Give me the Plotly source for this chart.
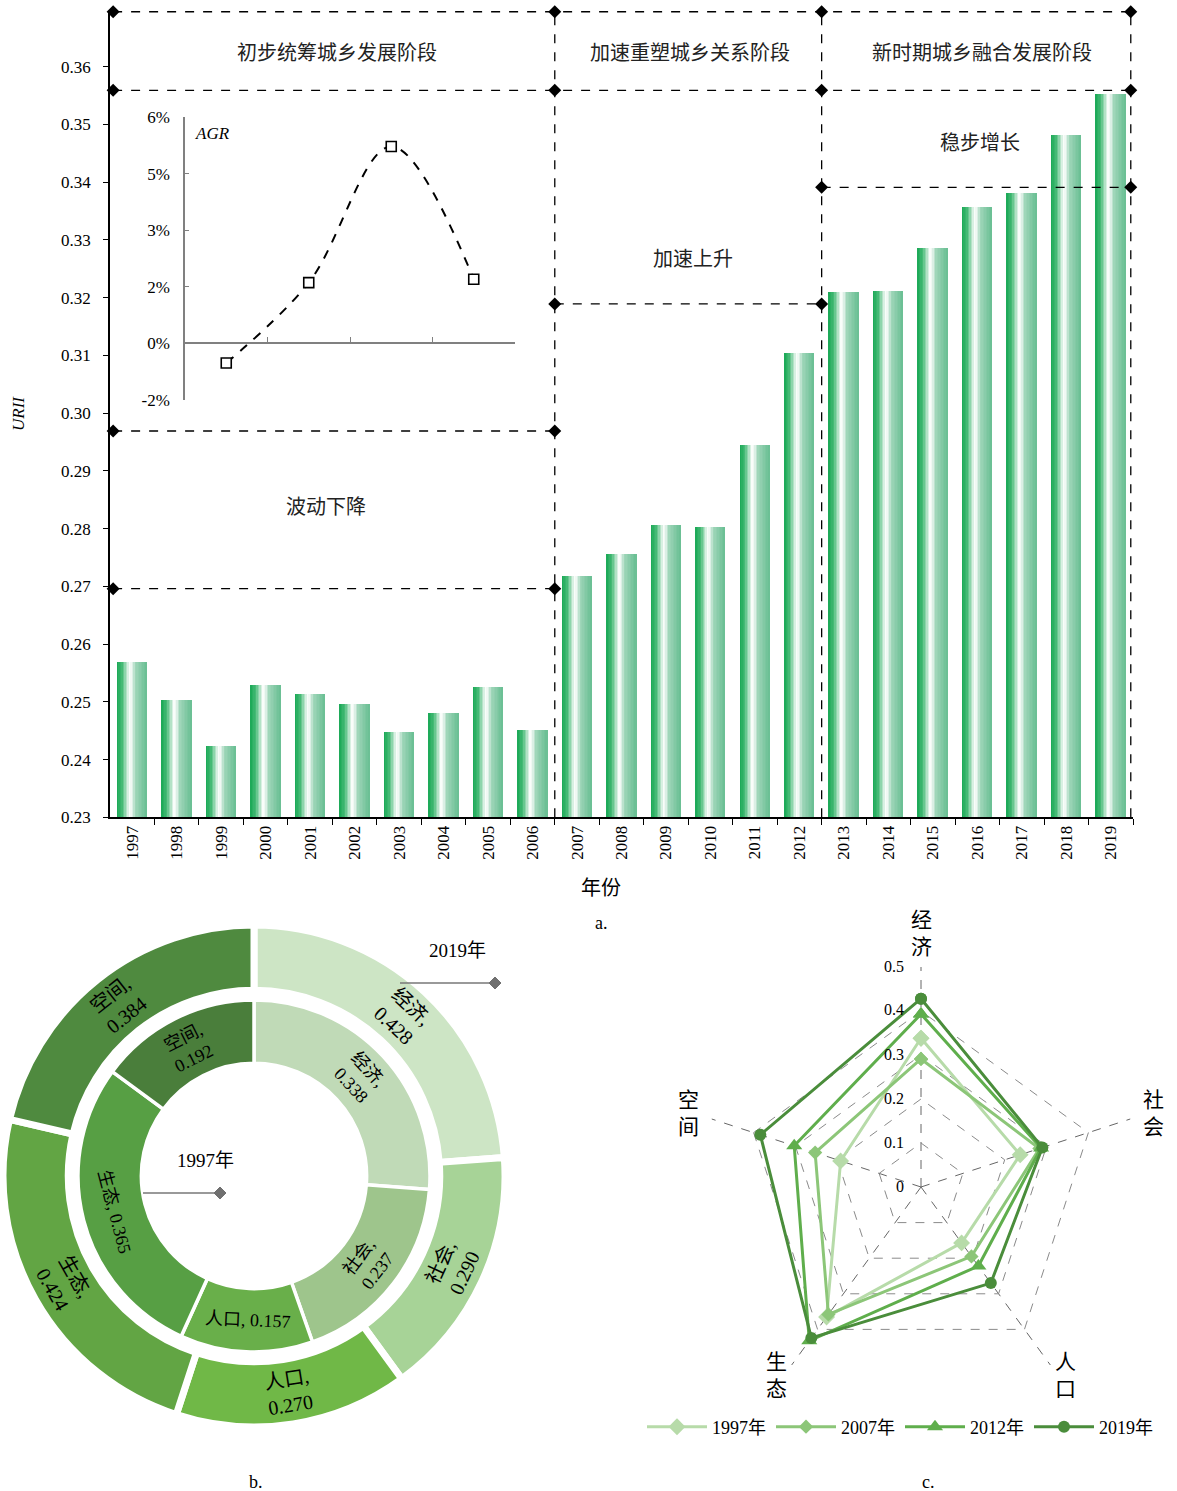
import math
import plotly.graph_objects as go

W, H = 1177, 1491

# ---------------- data ----------------
years = [str(y) for y in range(1997, 2020)]
urii = [0.2570, 0.2503, 0.2425, 0.2530, 0.2514, 0.2497, 0.2448, 0.2481, 0.2527, 0.2452,
        0.2719, 0.2756, 0.2807, 0.2804, 0.2946, 0.3104,
        0.3211, 0.3212, 0.3287, 0.3357, 0.3382, 0.3483, 0.3553]

stage_names = ["初步统筹城乡发展阶段", "加速重塑城乡关系阶段", "新时期城乡融合发展阶段"]
trend_names = ["波动下降", "加速上升", "稳步增长"]

agr_points = ["p1", "p2", "p3", "p4"]
agr_values = [-0.52, 1.61, 5.22, 1.70]          # percent
agr_tickvals = [-1.5, 0, 1.5, 3, 4.5, 6]
agr_ticktext = ["-2%", "0%", "2%", "3%", "5%", "6%"]

dims = ["经济", "社会", "人口", "生态", "空间"]
v1997 = [0.338, 0.237, 0.157, 0.365, 0.192]
v2007 = [0.291, 0.283, 0.195, 0.358, 0.253]
v2012 = [0.393, 0.287, 0.222, 0.432, 0.303]
v2019 = [0.428, 0.290, 0.270, 0.424, 0.384]
radar_series = ["1997年", "2007年", "2012年", "2019年"]
radar_ticks = [0, 0.1, 0.2, 0.3, 0.4, 0.5]

SERIF = "'Liberation Serif', 'Noto Sans CJK SC', serif"
CJK = "'Noto Sans CJK SC', 'Liberation Serif', sans-serif"


def P(x, y):
    return x / W, 1 - y / H


fig = go.Figure()


def note(text, x, y, size, family=SERIF, angle=0, xanchor="center", yanchor="middle", **kw):
    px_, py_ = P(x, y)
    fig.add_annotation(x=px_, y=py_, xref="paper", yref="paper", text=text, showarrow=False,
                       textangle=angle, xanchor=xanchor, yanchor=yanchor,
                       font=dict(family=family, size=size, color="black"), **kw)


# ---------------- (a) bar chart with gradient stripes ----------------
xs = list(range(len(years)))
stops = [(0.0, (24, 168, 84)), (0.18, (70, 186, 118)), (0.42, (250, 253, 251)),
         (0.5, (235, 246, 240)), (0.62, (160, 214, 186)), (1.0, (104, 190, 146))]


def grad(t):
    for (t0, c0), (t1, c1) in zip(stops[:-1], stops[1:]):
        if t0 <= t <= t1:
            f = (t - t0) / (t1 - t0)
            return "rgb(%d,%d,%d)" % tuple(round(a + (b - a) * f) for a, b in zip(c0, c1))
    return "rgb(%d,%d,%d)" % stops[-1][1]


BW = 0.67
N = 20
sw = BW / N
for i in range(N):
    fig.add_trace(go.Bar(
        x=xs, y=[v - 0.23 for v in urii], base=0.23,
        width=sw * 1.08, offset=-BW / 2 + i * sw,
        marker=dict(color=grad((i + 0.5) / N), line=dict(width=0)),
        showlegend=False, hoverinfo="skip", xaxis="x", yaxis="y"))

# stage frame lines
top_y, sec_y = 0.3695, 0.3559
xl, xm1, xm2, xr = -0.43, 9.5, 15.5, 22.45
hlines = [
    ([xl, xm1, xm2, xr], top_y),
    ([xl, xm1, xm2, xr], sec_y),
    ([xm2, xr], 0.3391),
    ([xm1, xm2], 0.3189),
    ([xl, xm1], 0.2969),
    ([xl, xm1], 0.2696),
]
for xv in [xm1, xm2, xr]:
    fig.add_trace(go.Scatter(x=[xv, xv], y=[0.23, top_y], mode="lines", cliponaxis=False,
                             line=dict(color="black", width=1.3, dash="dash"),
                             showlegend=False, hoverinfo="skip", xaxis="x", yaxis="y"))
for xv, yv in hlines:
    fig.add_trace(go.Scatter(x=xv, y=[yv] * len(xv), mode="lines+markers", cliponaxis=False,
                             line=dict(color="black", width=1.3, dash="dash"),
                             marker=dict(symbol="diamond", size=10, color="black"),
                             showlegend=False, hoverinfo="skip", xaxis="x", yaxis="y"))

for name, xv in zip(stage_names, [4.6, 12.55, 19.1]):
    fig.add_annotation(x=xv, y=(top_y + sec_y) / 2, xref="x", yref="y", text=name,
                       showarrow=False, font=dict(family=CJK, size=20, color="#222"))
for name, xv, yv in zip(trend_names, [4.35, 12.6, 19.05], [0.2840, 0.3269, 0.3471]):
    fig.add_annotation(x=xv, y=yv, xref="x", yref="y", text=name,
                       showarrow=False, font=dict(family=CJK, size=20, color="#222"))

# inset AGR line
fig.add_trace(go.Scatter(x=list(range(len(agr_points))), y=agr_values, mode="lines+markers",
                         line=dict(color="black", width=2, dash="dash", shape="spline", smoothing=1.0),
                         marker=dict(symbol="square", size=10, color="white",
                                     line=dict(width=1.6, color="black")),
                         showlegend=False, hoverinfo="skip", xaxis="x2", yaxis="y2"))

main_dom_x = [P(110, 0)[0], P(1133, 0)[0]]
main_dom_y = [P(0, 817.3)[1], P(0, 10.6)[1]]
ins_dom_x = [P(185, 0)[0], P(515, 0)[0]]
ins_dom_y = [P(0, 400)[1], P(0, 117)[1]]
ins_zero = ins_dom_y[0] + (0 - (-1.5)) / 7.5 * (ins_dom_y[1] - ins_dom_y[0])

fig.update_layout(
    xaxis=dict(domain=main_dom_x, anchor="y", range=[-0.5, 22.5], tickmode="array",
               tickvals=xs, ticktext=years, ticks="", tickangle=-90, automargin=False,
               tickfont=dict(family=SERIF, size=17, color="black"),
               showline=True, linecolor="black", linewidth=1.5, showgrid=False, zeroline=False,
               minor=dict(tickvals=[x + 0.5 for x in xs], ticks="outside", ticklen=6,
                          tickcolor="black", tickwidth=1.3, showgrid=False)),
    yaxis=dict(domain=main_dom_y, anchor="x", range=[0.23, 0.3697], dtick=0.01, tick0=0.23,
               tickformat=".2f", ticks="outside", ticklen=5, tickcolor="black", automargin=False,
               ticklabelstandoff=9,
               tickfont=dict(family=SERIF, size=17, color="black"),
               showline=True, linecolor="black", linewidth=1.5, showgrid=False, zeroline=False),
    xaxis2=dict(domain=ins_dom_x, anchor="free", position=ins_zero, range=[-0.5, 3.5],
                tickmode="array", tickvals=[0.5, 1.5, 2.5, 3.5], ticks="inside", ticklen=6,
                tickcolor="#808080", showticklabels=False, showline=True, linecolor="#808080",
                linewidth=1.5, showgrid=False, zeroline=False, automargin=False),
    yaxis2=dict(domain=ins_dom_y, anchor="x2", range=[-1.5, 6], tickmode="array",
                tickvals=agr_tickvals, ticktext=agr_ticktext, ticks="inside", ticklen=4,
                tickcolor="#808080", showline=True, linecolor="#808080", linewidth=1.5,
                showgrid=False, zeroline=False, automargin=False, ticklabelstandoff=10,
                tickfont=dict(family=SERIF, size=17, color="black")),
)
fig.add_annotation(x=0.025, y=0.943, xref="x2 domain", yref="y2 domain", text="<i>AGR</i>",
                   xanchor="left", yanchor="middle", showarrow=False,
                   font=dict(family=SERIF, size=17, color="black"))

note("<i>URII</i>", 18, 414, 17, angle=-90)
note("年份", 601, 886, 20, family=CJK)

# ---------------- (b) donut ----------------
outer_colors = ["#cde5c5", "#a7d397", "#70b847", "#62a544", "#4f8a3f"]
inner_colors = ["#c0dab7", "#9ec58c", "#69af4a", "#579f44", "#4a7e3b"]
outer_sep = [",<br>", ",<br>", ",<br>", ",<br>", ",<br>"]
inner_sep = [",<br>", ",<br>", ", ", ", ", ",<br>"]

cx, cy, R, r_in = 254, 1176, 251, 176
hole_o, hole_i = 0.74, 0.64
fig.add_trace(go.Pie(
    labels=dims, values=v2019, sort=False, direction="clockwise", rotation=0, hole=hole_o,
    textinfo="none",
    marker=dict(colors=outer_colors, line=dict(color="white", width=7)),
    domain=dict(x=[P(cx - R, 0)[0], P(cx + R, 0)[0]], y=[P(0, cy + R)[1], P(0, cy - R)[1]]),
    showlegend=False, hoverinfo="skip"))
fig.add_trace(go.Pie(
    labels=dims, values=v1997, sort=False, direction="clockwise", rotation=0, hole=hole_i,
    textinfo="none",
    marker=dict(colors=inner_colors, line=dict(color="white", width=3.5)),
    domain=dict(x=[P(cx - r_in, 0)[0], P(cx + r_in, 0)[0]], y=[P(0, cy + r_in)[1], P(0, cy - r_in)[1]]),
    showlegend=False, hoverinfo="skip"))


def ring_labels(vals, seps, r_mid, size):
    tot = sum(vals)
    acc = 0
    for d, s, v in zip(dims, seps, vals):
        mid = (acc + v / 2) / tot * 360
        acc += v
        rad = math.radians(mid)
        x = cx + r_mid * math.sin(rad)
        y = cy - r_mid * math.cos(rad)
        ang = mid if (mid < 90 or mid > 270) else mid - 180
        if ang > 180:
            ang -= 360
        note(f"{d}{s}{v:.3f}", x, y, size, angle=ang)


ring_labels(v2019, outer_sep, (R + R * hole_o) / 2, 20)
ring_labels(v1997, inner_sep, (r_in + r_in * hole_i) / 2, 18)


def leader(x0, x1, y, label, lx, ly):
    a, b = P(x0, y)
    c, _ = P(x1, y)
    fig.add_shape(type="line", xref="paper", yref="paper", x0=a, y0=b, x1=c, y1=b,
                  line=dict(color="#777", width=1.5))
    d = 6
    pts = [P(x1 - d, y), P(x1, y - d), P(x1 + d, y), P(x1, y + d)]
    path = "M " + " L ".join(f"{p[0]},{p[1]}" for p in pts) + " Z"
    fig.add_shape(type="path", xref="paper", yref="paper", path=path,
                  fillcolor="#707070", line=dict(color="#707070", width=1))
    note(label, lx, ly, 19)


leader(400, 495, 983, "2019年", 457, 950)
leader(143, 220, 1193, "1997年", 205, 1160)

# ---------------- (c) radar ----------------
radar_vals = [v1997, v2007, v2012, v2019]
radar_colors = ["#b7dba9", "#8cc678", "#5fae4c", "#4a8d3b"]
radar_symbols = ["diamond", "diamond", "triangle-up", "circle"]
radar_sizes = [13, 11, 14, 12]
for name, vals, col, sym, sz in zip(radar_series, radar_vals, radar_colors, radar_symbols, radar_sizes):
    fig.add_trace(go.Scatterpolar(
        r=vals + vals[:1], theta=dims + dims[:1], name=name,
        mode="lines+markers", line=dict(color=col, width=3),
        marker=dict(symbol=sym, size=sz, color=col), subplot="polar", hoverinfo="skip"))

rcx, rcy, rR = 921, 1187, 220
fig.update_layout(
    polar=dict(
        domain=dict(x=[P(rcx - rR, 0)[0], P(rcx + rR, 0)[0]], y=[P(0, rcy + rR)[1], P(0, rcy - rR)[1]]),
        gridshape="linear", bgcolor="rgba(0,0,0,0)",
        radialaxis=dict(range=[0, 0.5], tickvals=radar_ticks, angle=90,
                        showline=False, ticks="", showticklabels=False,
                        gridcolor="#8a8a8a", griddash="dash", gridwidth=1.3),
        angularaxis=dict(rotation=90, direction="clockwise", showline=False,
                         gridcolor="#666", griddash="dash", gridwidth=1.3, ticks="",
                         showticklabels=False),
    ),
    legend=dict(orientation="h", x=P(900, 0)[0], y=P(0, 1427)[1], xanchor="center", yanchor="middle",
                font=dict(family=SERIF, size=18, color="black"), itemwidth=60,
                bgcolor="rgba(0,0,0,0)", tracegroupgap=0),
)
# radial tick labels
for t in radar_ticks:
    note(f"{t:g}", rcx - 15, rcy - t / 0.5 * rR - 1, 16, xanchor="right")
# axis (dimension) labels, stacked vertically, just outside each vertex
label_r = [256, 244, 236, 236, 244]
label_dx = [0, 0, 6, -6, 0]
for k, d in enumerate(dims):
    a = math.radians(90 - k * 72)
    rl = label_r[k]
    note("<br>".join(d), rcx + rl * math.cos(a) + label_dx[k], rcy - rl * math.sin(a) - (4 if k in (2, 3) else 0),
         21, family=CJK)

# panel labels
note("a.", 601, 923, 18)
note("b.", 256, 1482, 18)
note("c.", 928, 1482, 18)

fig.update_layout(width=W, height=H, margin=dict(l=0, r=0, t=0, b=0, autoexpand=False),
                  paper_bgcolor="white", plot_bgcolor="white", barmode="overlay",
                  bargap=0, showlegend=True)

fig.write_html("out.html")
